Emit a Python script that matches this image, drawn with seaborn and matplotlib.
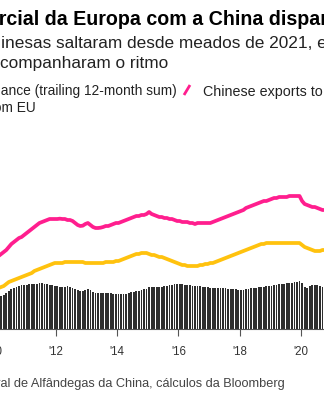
import matplotlib
matplotlib.use("Agg")
import matplotlib.pyplot as plt
from matplotlib.lines import Line2D
import numpy as np
import pandas as pd
import seaborn as sns

# ---------------- data (USD bn, trailing 12-month sums, monthly 2010-01 .. 2020-12) -------------
years = list(range(2010, 2021))

chinese_exports_to_eu = [
    216, 219, 225, 231, 237, 246, 255, 261, 267, 273, 276, 282,
    288, 294, 300, 306, 312, 318, 321, 324, 327, 330, 330, 330,
    330, 331, 330, 330, 327, 327, 324, 318, 312, 309, 310, 315,
    318, 312, 306, 303, 303, 304, 306, 309, 309, 312, 315, 318,
    318, 321, 324, 327, 330, 333, 336, 339, 339, 342, 342, 345,
    351, 345, 342, 339, 336, 336, 333, 333, 330, 330, 327, 324,
    324, 321, 321, 321, 318, 318, 315, 318, 318, 318, 318, 318,
    318, 321, 324, 327, 330, 333, 336, 339, 342, 345, 348, 351,
    354, 357, 363, 366, 369, 372, 375, 378, 381, 384, 384, 387,
    390, 393, 393, 396, 396, 396, 396, 399, 399, 399, 399, 399,
    384, 375, 372, 369, 366, 366, 363, 360, 357, 357, 360, 363,
]

chinese_imports_from_eu = [
    120, 123, 126, 129, 135, 141, 144, 147, 150, 153, 156, 159,
    162, 165, 168, 174, 177, 180, 183, 186, 189, 192, 195, 198,
    198, 198, 198, 201, 201, 201, 201, 201, 201, 201, 201, 198,
    198, 198, 198, 198, 198, 198, 198, 201, 201, 201, 201, 204,
    204, 207, 210, 213, 216, 219, 222, 225, 225, 228, 228, 228,
    225, 222, 222, 219, 216, 216, 213, 210, 207, 204, 201, 198,
    195, 192, 192, 189, 189, 189, 189, 189, 192, 192, 195, 195,
    198, 198, 201, 204, 207, 210, 213, 216, 219, 222, 225, 228,
    231, 234, 237, 240, 243, 246, 249, 252, 255, 255, 258, 258,
    258, 258, 258, 258, 258, 258, 258, 258, 258, 258, 258, 258,
    252, 246, 243, 240, 237, 234, 234, 234, 237, 237, 240, 240,
]

trade_balance = [
    90, 93, 99, 102, 108, 114, 120, 123, 126, 129, 132, 132,
    132, 135, 135, 135, 135, 138, 138, 135, 135, 132, 132, 129,
    129, 126, 126, 126, 129, 126, 123, 120, 117, 114, 114, 117,
    120, 117, 111, 108, 108, 108, 108, 108, 108, 108, 105, 105,
    105, 105, 105, 105, 108, 111, 111, 114, 114, 117, 120, 120,
    126, 126, 126, 126, 126, 126, 129, 129, 132, 132, 135, 135,
    135, 135, 132, 132, 132, 129, 129, 129, 129, 126, 126, 126,
    123, 123, 123, 123, 123, 123, 123, 120, 120, 120, 120, 117,
    117, 117, 120, 120, 123, 123, 123, 126, 126, 126, 129, 129,
    129, 132, 132, 135, 135, 135, 138, 138, 138, 141, 141, 144,
    138, 126, 123, 129, 132, 132, 132, 129, 126, 123, 123, 126,
]

tick_years = [2010, 2012, 2014, 2016, 2018, 2020]
tick_labels = ["'10", "'12", "'14", "'16", "'18", "'20"]

title = "Déficit comercial da Europa com a China dispara"
subtitle_1 = "Exportações chinesas saltaram desde meados de 2021, e as"
subtitle_2 = "importações da UE não acompanharam o ritmo"
legend_balance = "Trade balance (trailing 12-month sum)"
legend_exports = "Chinese exports to EU"
legend_imports = "Chinese imports from EU"
source = "Fonte: Administração Geral de Alfândegas da China, cálculos da Bloomberg"

PINK = "#ff1e8e"
YELLOW = "#ffc20e"
BAR = "#2e2e2e"

# ---------------- figure ----------------
sns.set_style("white")
plt.rcParams["font.family"] = ["Liberation Sans", "DejaVu Sans"]

W, H = 324, 400
fig = plt.figure(figsize=(W / 100, H / 100), dpi=100)

t = [y + (m + 0.5) / 12 for y in years for m in range(12)]
df = pd.DataFrame({"t": t, "exports": chinese_exports_to_eu,
                   "imports": chinese_imports_from_eu, "balance": trade_balance})

# axes geometry in pixels
px_per_year = 30.6
x0_px = 56.0  # pixel of 2012
xmin, xmax = 2009.5, 2021.5
left_px = x0_px + (xmin - 2012) * px_per_year
right_px = x0_px + (xmax - 2012) * px_per_year
base_px = 329.0
top_px = 120.0
ymax = (base_px - top_px) * 3.0

ax = fig.add_axes([left_px / W, (H - base_px) / H, (right_px - left_px) / W,
                   (base_px - top_px) / H])

sns.barplot(data=df, x="t", y="balance", native_scale=True, width=0.72,
            color=BAR, linewidth=0, errorbar=None, ax=ax, zorder=1)
sns.lineplot(data=df, x="t", y="imports", color=YELLOW, lw=2.7, ax=ax,
             estimator=None, zorder=3, solid_capstyle="round")
sns.lineplot(data=df, x="t", y="exports", color=PINK, lw=2.7, ax=ax,
             estimator=None, zorder=4, solid_capstyle="round")

ax.set_xlim(xmin, xmax)
ax.set_ylim(0, ymax)
ax.set_xlabel("")
ax.set_ylabel("")
ax.set_yticks([])
ax.set_xticks(tick_years)
ax.set_xticklabels(tick_labels, fontsize=8.3, color="#333333")
ax.tick_params(axis="x", length=5, width=0.8, color="#555555", pad=7, bottom=True)
for s in ["top", "right", "left"]:
    ax.spines[s].set_visible(False)
ax.spines["bottom"].set_color("#555555")
ax.spines["bottom"].set_linewidth(0.8)
ax.patch.set_alpha(0)

# ---------------- cropped texts ----------------
fig.canvas.draw()
renderer = fig.canvas.get_renderer()


def cut_text(full, prefix_len, x_px, baseline_px, **kw):
    probe = fig.text(0, 0, full[:prefix_len], **kw)
    w = probe.get_window_extent(renderer).width
    probe.remove()
    fig.text((x_px - w) / W, 1 - baseline_px / H, full, ha="left", va="baseline", **kw)


cut_text(title, len("Déficit come"), -1, 25, fontsize=14.1, fontweight="bold", color="#000000")
cut_text(subtitle_1, len("Exportações ch"), 1, 48, fontsize=12.4, color="#222222")
cut_text(subtitle_2, len("importações da UE não a"), 0, 68, fontsize=12.4, color="#222222")
cut_text(legend_balance, len("Trade bal"), 1, 95, fontsize=9.9, color="#222222")
cut_text(legend_imports, len("Chinese imports fro"), 1, 112, fontsize=9.9, color="#222222")
fig.text(203 / W, 1 - 96 / H, legend_exports, ha="left", va="baseline",
         fontsize=10.3, color="#222222")
fig.add_artist(Line2D([184 / W, 190 / W], [1 - 95 / H, 1 - 85 / H], color=PINK,
                      lw=2.0, solid_capstyle="butt", transform=fig.transFigure))
cut_text(source, len("Fonte: Administração Ger"), 1, 387, fontsize=9.2, color="#444444")

fig.savefig("out.png", dpi=100)
